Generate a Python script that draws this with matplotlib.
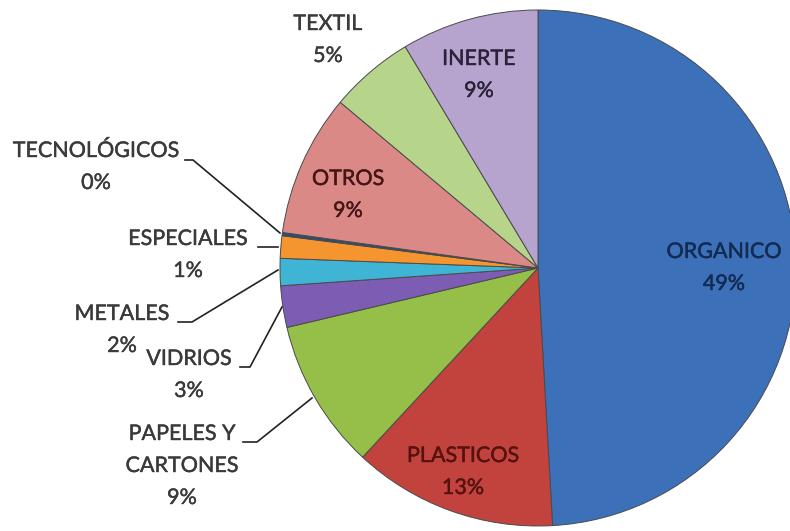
import matplotlib
matplotlib.use('Agg')
import matplotlib.pyplot as plt
import matplotlib.patheffects as pe

categories = ['ORGANICO', 'PLASTICOS', 'PAPELES Y\nCARTONES', 'VIDRIOS', 'METALES',
              'ESPECIALES', 'TECNOLÓGICOS', 'OTROS', 'TEXTIL', 'INERTE']
values = [49.1, 12.8, 9.4, 2.6, 1.7, 1.4, 0.2, 8.9, 5.3, 8.6]

colors = ['#3c70b8', '#c2423e', '#95bf48', '#7c5db3', '#40b4d4',
          '#f5952f', '#2c4d75', '#da8987', '#b7d48b', '#b6a4cf']
text_colors = ['#132b52', '#55120e', '#3a3a3a', '#3a3a3a', '#3a3a3a',
               '#3a3a3a', '#3a3a3a', '#461515', '#3a3a3a', '#2a2238']

H = 531
# label centres in picture pixels (x, y from top)
label_pos = [(724, 268), (463, 472), (182, 466), (189, 375), (122, 330),
             (188, 255), (96, 167), (348, 195), (328, 40), (479, 75)]
# leader lines for the outside labels, picture pixels
leaders = [
    [(185, 160), (193, 160), (280, 233)],
    [(258, 247), (278, 247)],
    [(178, 322), (192, 322), (278, 270)],
    [(240, 367), (250, 367), (282, 307)],
    [(243, 442), (257, 442), (312, 398)],
]

fig = plt.figure(figsize=(7.9, 5.31), dpi=100)
ax = fig.add_axes([0, 0, 1, 1])

ax.pie(values, colors=colors, startangle=90, counterclock=False,
       center=(538, H - 268), radius=258, frame=True,
       wedgeprops=dict(edgecolor='#4a4a4a', linewidth=0.7))
ax.set_xlim(0, 790)
ax.set_ylim(0, H)
ax.set_aspect('equal')
ax.axis('off')

for name, v, (x, y), tc in zip(categories, values, label_pos, text_colors):
    ax.text(x, H - y, f'{name}\n{round(v)}%', ha='center', va='center',
            fontsize=15.5, family='Lato', color=tc, linespacing=1.75,
            path_effects=[pe.withStroke(linewidth=0.3, foreground=tc)])

for pts in leaders:
    ax.plot([p[0] for p in pts], [H - p[1] for p in pts], color='#222222', lw=1.2)

fig.savefig('out.png', dpi=100)
